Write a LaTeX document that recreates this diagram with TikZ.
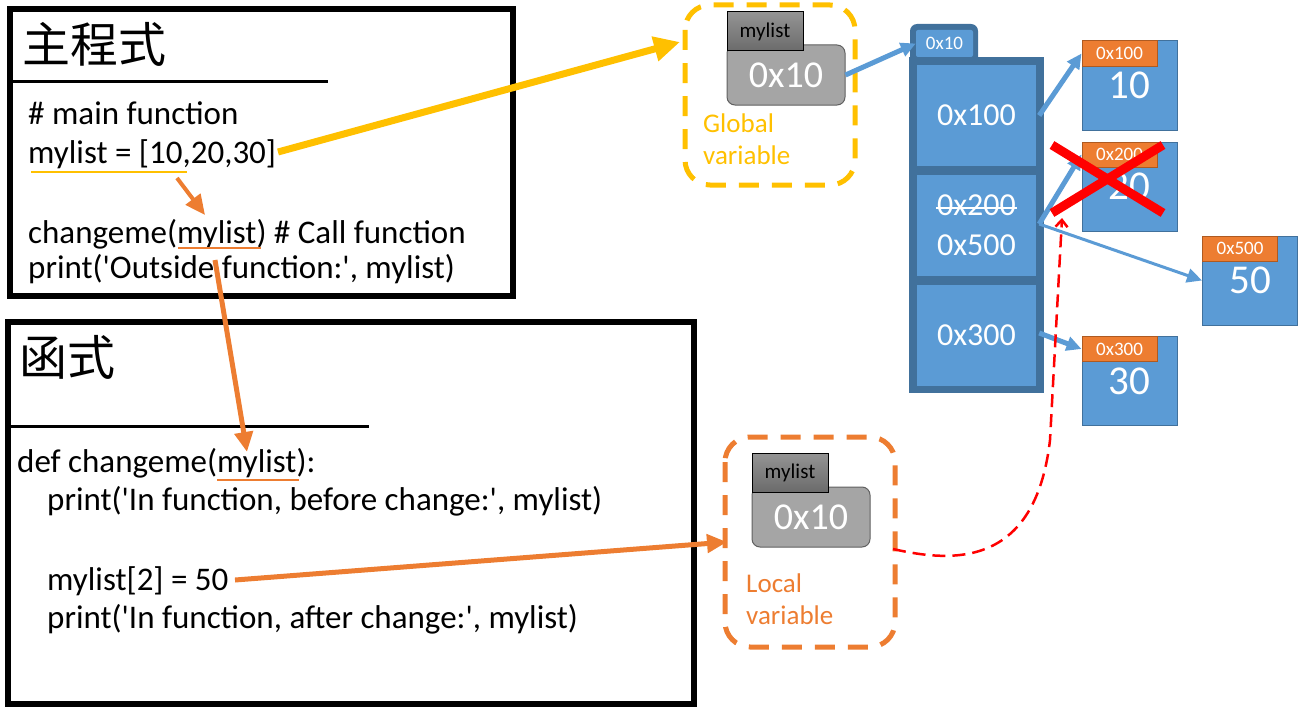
\documentclass[tikz,border=0pt]{standalone}
\usepackage{fontspec}
\setmainfont{Carlito}[Ligatures=TeXOff]
\newfontfamily\cjk{Noto Sans CJK TC}
\usetikzlibrary{arrows.meta}
\definecolor{ygold}{HTML}{FFC000}
\definecolor{orng}{HTML}{ED7D31}
\definecolor{orngdark}{HTML}{AE5A21}
\definecolor{cellblue}{HTML}{5B9BD5}
\definecolor{darkblue}{HTML}{41719C}
\definecolor{boxgray}{HTML}{A5A5A5}
\tikzset{
  code/.style={anchor=base west, inner sep=0pt, font=\fontsize{33}{39}\selectfont},
  heading/.style={anchor=base west, inner sep=0pt, font=\cjk\fontsize{48}{48}\selectfont},
  scopebox/.style={line width=5pt, rounded corners=25pt, dash pattern=on 20pt off 13pt},
  scopetext/.style={anchor=base west, inner sep=0pt, font=\fontsize{27}{32}\selectfont},
  varbox/.style={rounded corners=8pt, fill=boxgray, draw=gray!75!black, line width=1pt,
    minimum width=118pt, minimum height=60pt, text=white, font=\fontsize{38}{38}\selectfont},
  nametag/.style={draw=black, line width=1pt, top color=gray!84!white, bottom color=gray!84!black,
    minimum width=76pt, minimum height=39pt, inner sep=0pt, font=\fontsize{21}{21}\selectfont},
  cell/.style={fill=cellblue, minimum width=119pt, minimum height=101pt, inner sep=0pt,
    text=white, font=\fontsize{32}{32}\selectfont},
  valbox/.style={fill=cellblue, draw=darkblue, line width=1pt, minimum width=95pt,
    minimum height=89pt, inner sep=0pt, text=white, font=\fontsize{41}{41}\selectfont},
  addrtag/.style={anchor=north west, fill=orng, draw=orngdark, line width=1pt,
    minimum width=75pt, minimum height=25pt, inner sep=0pt, text=white,
    font=\fontsize{19}{19}\selectfont},
  bluearrow/.style={draw=cellblue, line width=5pt, -{Triangle[length=15pt,width=14pt]}},
  orngarrow/.style={draw=orng, line width=5pt, -{Triangle[length=20pt,width=18pt]}}
}
\begin{document}
\begin{tikzpicture}[x=1pt,y=-1pt]
  \useasboundingbox (0,0) rectangle (1305,717);
  \draw [line width=6pt] (10,9) rectangle (513,296);
  \draw [line width=3pt] (10,81.5) -- (328,81.5);
  \node [heading] (mainhead) at (22,63) {主程式};
  \node [code] (mainA) at (28,124) {\# main function};
  \node [code] (mainB) at (28,163) {mylist = [10,20,30]};
  \node [code] (mainC) at (28,243) {changeme(mylist) \# Call function};
  \node [code] (mainD) at (28,278) {print('Outside function:', mylist)};
  \draw [ygold, line width=1.5pt] (31,172) -- (187,172);
  \draw [orng, line width=2pt] (178,248) -- (261,248);

  \draw [line width=6pt] (8,321.5) rectangle (694,703.5);
  \draw [line width=3pt] (8,426.5) -- (369,426.5);
  \node [heading] (funchead) at (19,375) {函式};
  \node [code] (funcA) at (17,472) {def changeme(mylist):};
  \node [code] (funcB) at (47,510) {print('In function, before change:', mylist)};
  \node [code] (funcC) at (47,590) {mylist[2] = 50};
  \node [code] (funcD) at (47,628) {print('In function, after change:', mylist)};
  \draw [orng, line width=2pt] (217,480) -- (299,480);

  \draw [ygold, scopebox] (685,5) rectangle (855,185);
  \node [varbox] (gvar) at (786,75) {0x10};
  \node [nametag] (gname) at (765,31.5) {mylist};
  \node [scopetext, ygold] (gtext) at (703,132) {Global};
  \node [scopetext, ygold] at (703,164) {variable};

  \draw [orng, scopebox] (725,437) rectangle (895,647);
  \node [varbox] (lvar) at (811,517) {0x10};
  \node [nametag] (lname) at (790,472.5) {mylist};
  \node [scopetext, orng] (ltext) at (746,592) {Local};
  \node [scopetext, orng] at (746,624) {variable};

  \fill [darkblue, rounded corners=7pt] (910,24) rectangle (978,70);
  \fill [darkblue] (909,57) rectangle (1044,393);
  \node [fill=cellblue, rounded corners=2pt, minimum width=57pt, minimum height=27pt,
    inner sep=0pt, text=white, font=\fontsize{19}{19}\selectfont] (memtab) at (944.5,43.5) {0x10};
  \node [cell] (cellA) at (976.5,115.5) {0x100};
  \node [cell] (cellB) at (976.5,225) {};
  \node [cell] (cellC) at (976.5,335) {0x300};
  \node [text=white, font=\fontsize{32}{32}\selectfont] (oldaddr) at (976.5,205) {0x200};
  \node [text=white, font=\fontsize{32}{32}\selectfont] (newaddr) at (976.5,245) {0x500};
  \draw [white, line width=1.5pt] (936,208) -- (1017,208);

  \node [valbox] (valA) at (1129.5,85.5) {10};
  \node [addrtag] (tagA) at (valA.north west) {0x100};
  \node [valbox] (valB) at (1129.5,186.5) {20};
  \node [addrtag] (tagB) at (valB.north west) {0x200};
  \node [valbox] (valC) at (1250,280.5) {50};
  \node [addrtag] (tagC) at (valC.north west) {0x500};
  \node [valbox] (valD) at (1129.5,381) {30};
  \node [addrtag] (tagD) at (valD.north west) {0x300};

  \coordinate (gtip) at (680,42);
  \coordinate (mainend) at (278,152);
  \coordinate (callsrc) at (177,178);
  \coordinate (calltip) at (205,215);
  \coordinate (argsrc) at (215,260);
  \coordinate (argtip) at (247,452);
  \coordinate (setsrc) at (235,580);
  \coordinate (settip) at (727,542);
  \coordinate (refsrc) at (893,549);
  \coordinate (reftip) at (1062,218);

  \draw [ygold, line width=7pt, -{Triangle[length=26pt,width=24pt]}] (mainend) -- (gtip);
  \draw [orngarrow, line width=4pt] (callsrc) -- (calltip);
  \draw [orngarrow] (argsrc) -- (argtip);
  \draw [orngarrow] (setsrc) -- (settip);

  \draw [bluearrow] (gvar.east) -- (memtab.west);
  \draw [bluearrow] ([xshift=3pt]cellA.east) -- (tagA.west);
  \draw [bluearrow] ([xshift=3pt,yshift=1pt]cellB.east) -- (tagB.west);
  \draw [bluearrow, line width=3pt] ([xshift=3pt,yshift=1pt]cellB.east) -- (valC.west);
  \draw [bluearrow] ([xshift=3pt,yshift=2pt]cellC.east) -- (tagD.west);

  \draw [red, line width=9pt] (1052,145) -- (1163,213);
  \draw [red, line width=9pt] (1052,213) -- (1163,145);

  \draw [red, line width=2.5pt, dash pattern=on 13pt off 7pt, -{Straight Barb[length=7pt,width=12pt]}]
    (refsrc) .. controls (950,562) and (1035,570) .. (1050,440) -- (reftip);
\end{tikzpicture}
\end{document}
